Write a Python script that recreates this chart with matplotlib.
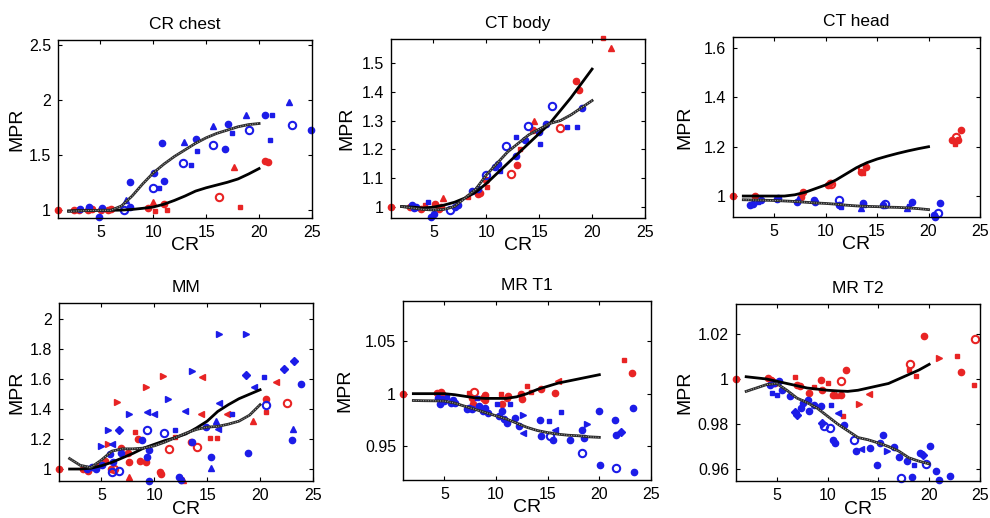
import matplotlib
matplotlib.use("Agg")
import matplotlib.pyplot as plt
from matplotlib.ticker import FormatStrFormatter

plt.rcParams['font.family'] = ['Liberation Sans', 'DejaVu Sans']

# ---- data ----
# kinds: . filled dot, o open circle, ^ > < triangles, * small star, d diamond
fit_x = [2, 3, 4, 5, 6, 7, 8, 9, 10, 11, 12, 13, 14, 15, 16, 17, 18, 19, 20]

# CR chest
chest_red_x = [1, 2.5, 3, 3.8, 4.2, 5.1, 5.7, 6.0, 9.5, 10.0, 10.2, 11.0, 11.3, 16.2, 17.6, 18.2, 20.6, 20.8]
chest_red_y = [1.0, 1.0, 1.0, 1.0, 1.01, 1.0, 1.0, 1.01, 1.02, 1.08, 0.99, 1.06, 1.0, 1.12, 1.39, 1.03, 1.45, 1.44]
chest_red_k = ". . . . . . . . . ^ * . * o ^ * . ."
chest_blue_x = [3.1, 3.9, 4.9, 5.2, 7.2, 7.4, 7.8, 7.8, 10.0, 10.1, 10.5, 10.8, 11.0, 12.8, 12.9, 13.6,
                14.0, 14.1, 15.6, 15.6, 16.8, 17.1, 17.4, 18.8, 19.0, 20.6, 21.0, 21.2, 22.8, 23.1, 24.9]
chest_blue_y = [1.01, 1.03, 0.94, 1.02, 1.0, 1.09, 1.26, 1.03, 1.2, 1.34, 1.2, 1.61, 1.27, 1.43, 1.62, 1.41,
                1.65, 1.54, 1.59, 1.77, 1.56, 1.79, 1.70, 1.87, 1.73, 1.87, 1.64, 1.87, 1.99, 1.78, 1.73]
chest_blue_k = ". . . . o ^ . . o . * . . o ^ * . * o ^ . . * ^ o . * * ^ o ."
chest_solid = [0.995, 0.997, 0.998, 1.0, 1.0, 1.002, 1.008, 1.018, 1.03, 1.055, 1.09, 1.13, 1.175, 1.205,
               1.23, 1.255, 1.285, 1.33, 1.38]
chest_dashed = [0.99, 0.995, 0.998, 1.0, 1.0, 1.04, 1.13, 1.24, 1.34, 1.42, 1.49, 1.55, 1.61, 1.66,
                1.70, 1.73, 1.76, 1.78, 1.79]

# CT body
body_red_x = [1, 2.8, 3.8, 4.2, 5.2, 5.5, 5.7, 5.9, 8.3, 9.2, 9.4, 10.0, 10.1, 12.3, 13.2, 12.9, 14.4,
              14.5, 17.0, 18.5, 18.8, 21.0, 21.8]
body_red_y = [1.0, 1.0, 0.99, 1.006, 1.01, 0.99, 1.0, 1.03, 1.034, 1.043, 1.047, 1.094, 1.067, 1.114, 1.2,
              1.146, 1.266, 1.30, 1.274, 1.44, 1.406, 1.588, 1.553]
body_red_k = ". . . * . . . ^ * . . . * o * . . ^ o . . * ^"
body_blue_x = [3.0, 3.2, 3.4, 4.5, 4.8, 5.1, 6.6, 7.0, 7.3, 8.7, 9.2, 10.0, 10.8, 11.1, 11.3, 11.9, 12.8,
               12.8, 13.7, 13.9, 15.0, 15.1, 15.6, 16.2, 17.6, 18.6, 19.0]
body_blue_y = [1.006, 0.994, 1.0, 1.016, 0.964, 0.973, 0.987, 1.0, 1.006, 1.055, 1.061, 1.111, 1.139, 1.149,
               1.123, 1.211, 1.242, 1.178, 1.233, 1.281, 1.26, 1.219, 1.289, 1.351, 1.278, 1.278, 1.345]
body_blue_k = ". . . * . . o . . . . o . . * o * . . o . * . o * * ."
body_solid = [1.0, 0.998, 0.995, 0.998, 1.005, 1.015, 1.03, 1.05, 1.08, 1.115, 1.15, 1.185, 1.22, 1.255,
              1.29, 1.335, 1.38, 1.43, 1.48]
body_dashed = [1.0, 0.995, 0.99, 0.988, 0.99, 1.0, 1.03, 1.06, 1.11, 1.15, 1.19, 1.22, 1.25, 1.27,
               1.29, 1.30, 1.32, 1.345, 1.37]

# CT head
head_red_x = [1, 3.1, 7.6, 7.7, 7.8, 10.2, 10.4, 10.5, 13.4, 13.5, 13.6, 13.9, 22.3, 22.6, 22.7, 22.9, 23.2]
head_red_y = [1.0, 1.0, 0.997, 1.008, 1.018, 1.045, 1.054, 1.05, 1.098, 1.112, 1.093, 1.119, 1.227, 1.211,
              1.24, 1.227, 1.268]
head_red_k = ". . . * . . . o . o * . . * o . ."
head_blue_x = [2.7, 2.9, 3.4, 3.7, 5.3, 5.4, 7.2, 7.3, 8.9, 9.0, 11.3, 11.3, 11.5, 13.4, 13.6, 13.7, 15.6,
               15.8, 17.9, 18.1, 18.4, 20.5, 20.6, 20.9, 21.1]
head_blue_y = [0.964, 0.968, 0.977, 0.984, 0.99, 0.994, 0.977, 0.986, 0.984, 0.977, 0.984, 0.964, 0.957,
               0.95, 0.97, 0.962, 0.964, 0.968, 0.95, 0.958, 0.977, 0.923, 0.916, 0.93, 0.97]
head_blue_k = ". . * . . . . ^ . . o . * ^ . * . o ^ * . . . o ."
head_solid = [1.0, 1.0, 1.0, 1.0, 1.0, 1.005, 1.015, 1.03, 1.045, 1.065, 1.09, 1.115, 1.135, 1.15,
              1.162, 1.173, 1.183, 1.192, 1.2]
head_dashed = [0.985, 0.984, 0.983, 0.982, 0.98, 0.978, 0.975, 0.972, 0.97, 0.967, 0.963, 0.96, 0.958,
               0.957, 0.955, 0.954, 0.952, 0.949, 0.945]

# MM
mm_red_x = [1, 3.3, 3.7, 4.7, 5.3, 5.6, 5.9, 6.2, 6.5, 6.9, 7.5, 7.6, 7.6, 8.2, 8.5, 8.7, 9.2, 9.2, 10.5,
            10.6, 10.8, 11.4, 12.0, 12.7, 13.5, 14.0, 14.5, 14.4, 15.3, 15.9, 16.9, 19.3, 20.6, 20.6, 21.5, 22.5]
mm_red_y = [1.0, 1.0, 0.99, 1.027, 1.054, 1.165, 1.0, 1.0, 1.45, 1.14, 1.11, 0.95, 1.045, 1.25, 1.2, 1.054,
            1.55, 1.045, 0.98, 0.965, 1.62, 1.134, 1.217, 0.93, 1.18, 1.15, 1.615, 1.367, 1.21, 1.21, 1.37,
            1.32, 1.47, 1.38, 1.58, 1.44]
mm_red_k = ". . . . . > . o > . . ^ . * . . > . . . > o * ^ . o < < * * < ^ . * < o"
mm_blue_x = [3.6, 4.1, 4.5, 5.0, 5.1, 5.6, 5.8, 6.0, 6.0, 6.1, 6.7, 6.7, 6.9, 7.6, 8.8, 9.3, 9.3, 9.3, 9.5,
             9.5, 10.0, 10.9, 11.3, 12.0, 12.9, 12.3, 12.5, 13.6, 13.6, 14.9, 15.4, 15.4, 15.8, 16.0, 16.1,
             16.1, 17.3, 18.7, 18.7, 18.9, 19.4, 20.4, 20.6, 22.3, 23.0, 23.1, 23.2, 23.9]
mm_blue_y = [1.0, 1.015, 1.0, 1.155, 1.027, 1.26, 1.098, 1.17, 0.982, 1.05, 1.26, 0.99, 1.105, 1.37, 1.195,
             1.26, 1.38, 1.08, 1.13, 0.92, 1.37, 1.24, 1.47, 1.26, 1.385, 0.95, 0.93, 1.655, 1.183, 1.278,
             1.005, 1.083, 1.32, 1.27, 1.9, 1.44, 1.37, 1.9, 1.627, 1.11, 1.55, 1.615, 1.425, 1.67, 1.195,
             1.27, 1.725, 1.57]
mm_blue_k = ". . . > . > . < o . d o . > . o < . . . < o > * < . . > . . ^ . ^ < > < * > d . < * o d . ^ d ."
mm_solid = [1.0, 1.0, 1.005, 1.022, 1.045, 1.075, 1.105, 1.14, 1.165, 1.19, 1.21, 1.235, 1.275, 1.32,
            1.385, 1.43, 1.47, 1.50, 1.53]
mm_dashed = [1.07, 1.025, 1.01, 1.06, 1.12, 1.135, 1.135, 1.14, 1.155, 1.18, 1.21, 1.24, 1.265, 1.28,
             1.285, 1.30, 1.32, 1.36, 1.43]

# MR T1
t1_red_x = [1, 4.3, 4.5, 4.7, 4.8, 7.4, 7.9, 7.8, 7.7, 8.7, 8.9, 8.9, 10.5, 10.6, 11.1, 11.2, 12.4, 12.5,
            13.0, 13.4, 14.4, 15.7, 16.0, 22.4, 23.2]
t1_red_y = [1.0, 1.001, 0.9994, 1.0013, 1.0, 1.001, 1.002, 0.990, 0.996, 0.996, 0.9987, 0.9936, 1.0, 0.9898,
            0.996, 0.9978, 1.0, 0.9946, 1.0073, 1.0016, 1.004, 1.001, 1.012, 1.032, 1.02]
t1_red_k = ". . . . . * o . . . . . * . . . . . * * . . < * ."
t1_blue_x = [4.4, 4.6, 4.8, 5.0, 5.3, 5.6, 5.8, 6.0, 7.2, 7.4, 7.7, 8.2, 8.4, 8.7, 8.9, 9.2, 10.1, 10.3,
             10.6, 10.8, 11.1, 11.4, 11.8, 12.2, 12.6, 12.6, 14.3, 14.4, 15.1, 15.2, 15.5, 15.7, 16.3, 17.2,
             18.3, 18.3, 18.5, 18.8, 20.0, 20.1, 21.5, 21.6, 21.6, 22.1, 23.3, 23.4]
t1_blue_y = [0.996, 0.99, 0.9946, 0.993, 0.9968, 0.9914, 0.9936, 0.9907, 0.985, 0.9866, 0.985, 0.996, 0.988,
             0.9834, 0.9866, 0.9818, 0.9898, 0.9786, 0.9834, 0.9764, 0.9722, 0.9898, 0.977, 0.969, 0.98,
             0.9626, 0.9754, 0.9594, 0.9738, 0.9594, 0.956, 0.9658, 0.9827, 0.956, 0.9658, 0.9434, 0.9578,
             0.9712, 0.984, 0.932, 0.9754, 0.9604, 0.929, 0.964, 0.9866, 0.926]
t1_blue_k = ". . . . * . . . . . . * . . . . * . . . . * . . > < . . * o . < * . . o . > . . . . o d . ."
t1_solid = [1.0, 1.0, 1.0, 1.0, 0.999, 0.9975, 0.996, 0.9955, 0.9955, 0.9955, 0.997, 1.0, 1.004, 1.007,
            1.01, 1.012, 1.014, 1.016, 1.018]
t1_dashed = [0.9935, 0.9933, 0.9932, 0.993, 0.991, 0.988, 0.985, 0.982, 0.979, 0.976, 0.972, 0.968, 0.965,
             0.963, 0.9615, 0.9605, 0.96, 0.959, 0.9585]

# MR T2
t2_red_x = [1, 4.1, 4.4, 4.5, 4.8, 6.8, 7.0, 7.3, 8.2, 8.7, 9.4, 9.5, 10.0, 10.5, 10.8, 11.3, 11.3, 11.5,
            11.8, 13.1, 14.1, 18.1, 18.0, 18.7, 19.5, 21.0, 22.7, 23.1, 24.5, 24.4]
t2_red_y = [1.0, 1.0004, 0.9997, 0.999, 0.9982, 1.0007, 0.9975, 0.9967, 0.9938, 0.9963, 0.9997, 0.9952,
            0.998, 0.993, 0.9928, 0.9928, 0.999, 0.9834, 1.0038, 0.989, 0.9933, 1.0067, 1.004, 1.0012,
            1.0192, 1.0093, 1.01, 1.003, 1.0176, 0.9975]
t2_red_k = ". . . . . * . . . * . . * . ^ . o * . > < o * * . > * . o *"
t2_blue_x = [4.3, 4.5, 4.7, 5.2, 5.0, 5.5, 6.3, 6.8, 7.0, 7.4, 7.6, 8.1, 8.2, 8.7, 9.4, 9.5, 9.7, 10.2, 10.3,
             10.5, 10.7, 11.0, 11.6, 12.6, 12.8, 13.3, 14.2, 14.9, 15.2, 15.5, 15.9, 16.5, 17.0, 17.2, 17.8,
             18.3, 18.5, 19.1, 19.4, 19.7, 20.1, 20.7, 21.0, 22.0]
t2_blue_y = [0.9972, 0.9938, 0.9982, 0.999, 0.993, 0.9953, 0.9926, 0.9853, 0.9842, 0.9871, 0.9893, 0.9908,
             0.9856, 0.9886, 0.9879, 0.9805, 0.979, 0.9782, 0.9886, 0.973, 0.9716, 0.985, 0.9797, 0.973,
             0.968, 0.9689, 0.9693, 0.962, 0.9716, 0.9753, 0.968, 0.9697, 0.9653, 0.956, 0.9638, 0.9564,
             0.962, 0.9672, 0.9664, 0.9623, 0.9701, 0.9593, 0.9553, 0.9568]
t2_blue_k = ". * . . * . . d d . . . . . . d o o * . . < . o . < . . . . > . . o . . * . d o . . . ."
t2_solid = [1.001, 1.0005, 1.0, 0.999, 0.998, 0.997, 0.996, 0.9955, 0.995, 0.9947, 0.9945, 0.995, 0.996,
            0.997, 0.998, 1.0, 1.002, 1.004, 1.0065]
t2_dashed = [0.9945, 0.996, 0.9975, 0.998, 0.995, 0.9915, 0.9895, 0.987, 0.9835, 0.98, 0.977, 0.974, 0.973,
             0.9716, 0.97, 0.968, 0.965, 0.9635, 0.9623]

titles = ["CR chest", "CT body", "CT head", "MM", "MR T1", "MR T2"]
y_limits = [(0.93, 2.55), (0.96, 1.585), (0.915, 1.645), (0.92, 2.11), (0.918, 1.088), (0.9547, 1.0333)]
y_ticks = [[1, 1.5, 2, 2.5], [1, 1.1, 1.2, 1.3, 1.4, 1.5], [1, 1.2, 1.4, 1.6],
           [1, 1.2, 1.4, 1.6, 1.8, 2], [0.95, 1, 1.05], [0.96, 0.98, 1, 1.02]]
x_ticks = [5, 10, 15, 20, 25]

panels = [
    (chest_red_x, chest_red_y, chest_red_k, chest_blue_x, chest_blue_y, chest_blue_k, chest_solid, chest_dashed),
    (body_red_x, body_red_y, body_red_k, body_blue_x, body_blue_y, body_blue_k, body_solid, body_dashed),
    (head_red_x, head_red_y, head_red_k, head_blue_x, head_blue_y, head_blue_k, head_solid, head_dashed),
    (mm_red_x, mm_red_y, mm_red_k, mm_blue_x, mm_blue_y, mm_blue_k, mm_solid, mm_dashed),
    (t1_red_x, t1_red_y, t1_red_k, t1_blue_x, t1_blue_y, t1_blue_k, t1_solid, t1_dashed),
    (t2_red_x, t2_red_y, t2_red_k, t2_blue_x, t2_blue_y, t2_blue_k, t2_solid, t2_dashed),
]

# axes boxes in pixels: left, top, right, bottom ; ylabel offset from axes
boxes = [(58, 40, 312, 218), (391, 39, 645, 218), (733, 37, 980, 217),
         (59, 303, 313, 481), (403, 301, 651, 480), (736, 304, 980, 481)]
ylab_off = [41, 44, 48, 42, 58, 51]

RED = '#e82424'
BLUE = '#1c1ce8'
W, H = 990, 518


def draw_points(ax, xs, ys, kinds, color):
    for x, y, k in zip(xs, ys, kinds.split()):
        if k == 'o':
            ax.plot(x, y, 'o', ms=5.3, mfc='none', mec=color, mew=1.5, clip_on=False)
        elif k == '*':
            ax.plot(x, y, 's', ms=3, color=color, clip_on=False)
        elif k == '.':
            ax.plot(x, y, 'o', ms=4.5, color=color, clip_on=False)
        else:
            m = {'^': '^', '>': '>', '<': '<', 'd': 'D'}[k]
            ax.plot(x, y, m, ms=5 if m != 'D' else 4, color=color, clip_on=False)


fig = plt.figure(figsize=(9.9, 5.18), dpi=100)

for i, (rx, ry, rk, bx, by, bk, solid, dashed) in enumerate(panels):
    l, t, r, b = boxes[i]
    ax = fig.add_axes([l / W, 1 - b / H, (r - l) / W, (b - t) / H])
    draw_points(ax, rx, ry, rk, RED)
    draw_points(ax, bx, by, bk, BLUE)
    ax.plot(fit_x, solid, color='black', lw=2.0)
    ax.plot(fit_x, dashed, color='#2a2a2a', lw=2.0)
    ax.plot(fit_x, dashed, color='#b0b0b0', lw=0.7, ls=(0, (1, 1.5)))

    ax.set_xlim(1, 25)
    ax.set_ylim(*y_limits[i])
    ax.set_xticks(x_ticks)
    ax.set_yticks(y_ticks[i])
    ax.yaxis.set_major_formatter(FormatStrFormatter('%g'))
    ax.tick_params(direction='in', length=3, width=0.8, top=True, right=True,
                   labelsize=11.5, pad=5)
    for s in ax.spines.values():
        s.set_linewidth(1.0)

    ax.set_title(titles[i], fontsize=12.5, pad=8)
    ax.set_xlabel('CR', fontsize=14, va='center')
    ax.xaxis.set_label_coords(0.5, -28 / (b - t))
    ax.set_ylabel('MPR', fontsize=14, va='center')
    ax.yaxis.set_label_coords(-ylab_off[i] / (r - l), 0.5)

fig.savefig('out.png', dpi=100)
